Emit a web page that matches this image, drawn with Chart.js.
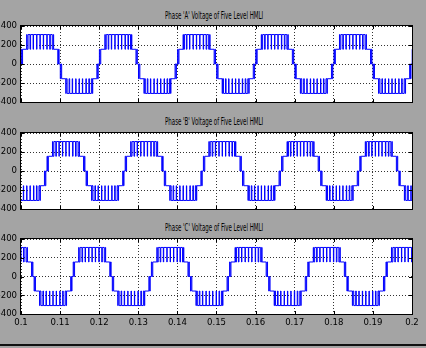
<!DOCTYPE html>
<html>
<head>
<meta charset="utf-8">
<script src="https://cdn.jsdelivr.net/npm/chart.js@4/dist/chart.umd.min.js"></script>
<style>
  body { margin: 0; width: 426px; height: 348px; overflow: hidden; background: #a4a4a4; position: relative; }
  .plot { position: absolute; left: 0; width: 426px; }
  .title { position: absolute; left: 165px; white-space: nowrap; transform-origin: left center;
           font: 11px/11px "Liberation Sans Narrow", "DejaVu Sans Condensed", sans-serif; color: #000; }
  .rule { position: absolute; left: 0; top: 344px; width: 426px; height: 2px; background: #111; }
</style>
</head>
<body>
<div class="title" id="tA" style="top:10px">Phase 'A' Voltage of Five Level HMLI</div>
<div class="plot" style="top:20px;height:88px"><canvas id="phaseA"></canvas></div>
<div class="title" id="tB" style="top:116px">Phase 'B' Voltage of Five Level HMLI</div>
<div class="plot" style="top:127px;height:88px"><canvas id="phaseB"></canvas></div>
<div class="title" id="tC" style="top:222px">Phase 'C' Voltage of Five Level HMLI</div>
<div class="plot" style="top:233px;height:100px"><canvas id="phaseC"></canvas></div>
<div class="rule"></div>
<script>
// one positive half-cycle: switching instants (ms after zero crossing) and level (V)
const halfMs = [0, 0.15, 0.30, 0.50, 1.55, 1.65, 1.90, 2.40, 2.55, 3.20, 3.30, 4.10, 4.18, 4.95, 5.03,
  5.80, 5.88, 6.70, 6.80, 7.45, 7.60, 8.10, 8.35, 8.45, 9.50, 9.70, 9.85];
const halfLevel = [0, 155, 0, 155, 310, 155, 310, 155, 310, 155, 310, 155, 310, 155, 310,
  155, 310, 155, 310, 155, 310, 155, 310, 155, 0, 155, 0];

// zero crossings (s) of each phase, rising and falling
const risingA = [0.0799, 0.0999, 0.1199, 0.1399, 0.1599, 0.1799, 0.1999];
const fallingA = [0.0899, 0.1099, 0.1299, 0.1499, 0.1699, 0.1899];
const risingB = [0.0865, 0.1065, 0.1265, 0.1465, 0.1665, 0.1865];
const fallingB = [0.0965, 0.1165, 0.1365, 0.1565, 0.1765, 0.1965];
const risingC = [0.0932, 0.1132, 0.1332, 0.1532, 0.1732, 0.1932];
const fallingC = [0.0832, 0.1032, 0.1232, 0.1432, 0.1632, 0.1832];

const xTicks = [0.1, 0.11, 0.12, 0.13, 0.14, 0.15, 0.16, 0.17, 0.18, 0.19, 0.2];
const yTicks = [-400, -200, 0, 200, 400];

function buildSeries(rising, falling) {
  const pts = [];
  rising.forEach(t0 => halfMs.forEach((ms, i) => pts.push({ x: t0 + ms / 1000, y: halfLevel[i] })));
  falling.forEach(t0 => halfMs.forEach((ms, i) => pts.push({ x: t0 + ms / 1000, y: -halfLevel[i] })));
  return pts.sort((a, b) => a.x - b.x);
}

const tickFont = { family: '"Liberation Sans Narrow", "DejaVu Sans Condensed", sans-serif', size: 9.5 };

// white axes area, black box and inward tick marks like MATLAB
const matlabBox = {
  id: 'matlabBox',
  beforeDraw(chart) {
    const { ctx, chartArea: a } = chart;
    ctx.save();
    ctx.fillStyle = '#fff';
    ctx.fillRect(a.left, a.top, a.right - a.left, a.bottom - a.top);
    ctx.restore();
  },
  afterDraw(chart) {
    const { ctx, chartArea: a, scales } = chart;
    ctx.save();
    ctx.strokeStyle = '#000';
    ctx.lineWidth = 1;
    ctx.strokeRect(Math.round(a.left) - 0.5, Math.round(a.top) - 0.5,
      Math.round(a.right - a.left) + 1, Math.round(a.bottom - a.top) + 1);
    ctx.beginPath();
    xTicks.forEach(v => {
      const x = Math.round(scales.x.getPixelForValue(v)) + 0.5;
      ctx.moveTo(x, a.top); ctx.lineTo(x, a.top + 3);
      ctx.moveTo(x, a.bottom); ctx.lineTo(x, a.bottom - 3);
    });
    yTicks.forEach(v => {
      const y = Math.round(scales.y.getPixelForValue(v)) + 0.5;
      ctx.moveTo(a.left, y); ctx.lineTo(a.left + 3, y);
      ctx.moveTo(a.right, y); ctx.lineTo(a.right - 3, y);
    });
    ctx.stroke();
    ctx.restore();
  }
};

function noPad(s) {
  s.paddingTop = 0;
  s.paddingBottom = 0;
  s.paddingLeft = 0;
  s.paddingRight = 0;
}

function phaseChart(id, rising, falling, showX) {
  new Chart(document.getElementById(id), {
    type: 'line',
    data: {
      datasets: [{
        data: buildSeries(rising, falling),
        stepped: true,
        borderColor: '#0000ff',
        borderWidth: 1,
        pointRadius: 0,
        clip: 0,
      }],
    },
    options: {
      animation: false,
      responsive: true,
      maintainAspectRatio: false,
      layout: { padding: { top: 6, right: 14, bottom: showX ? 5 : 6, left: 0 } },
      plugins: { legend: { display: false }, tooltip: { enabled: false } },
      scales: {
        x: {
          type: 'linear', min: 0.1, max: 0.2,
          afterBuildTicks: s => { s.ticks = xTicks.map(v => ({ value: v })); },
          afterFit: s => { s.height = showX ? 14 : 0; noPad(s); },
          ticks: {
            display: showX, padding: 3, color: '#000', font: tickFont, maxRotation: 0, autoSkip: false,
            callback: v => String(+v.toFixed(2)),
          },
          grid: { color: '#333', drawTicks: false },
          border: { display: false, dash: [1, 2] },
        },
        y: {
          min: -400, max: 400,
          afterBuildTicks: s => { s.ticks = yTicks.map(v => ({ value: v })); },
          afterFit: s => { s.width = 21; noPad(s); },
          ticks: { padding: 4, color: '#000', font: tickFont },
          grid: { color: '#333', drawTicks: false },
          border: { display: false, dash: [1, 2] },
        },
      },
    },
    plugins: [matlabBox],
  });
}

phaseChart('phaseA', risingA, fallingA, false);
phaseChart('phaseB', risingB, fallingB, false);
phaseChart('phaseC', risingC, fallingC, true);

// squeeze the titles to the narrow width of the original figure
['tA', 'tB', 'tC'].forEach(id => {
  const el = document.getElementById(id);
  el.style.transform = 'scaleX(' + (98 / el.offsetWidth) + ')';
});
</script>
</body>
</html>
